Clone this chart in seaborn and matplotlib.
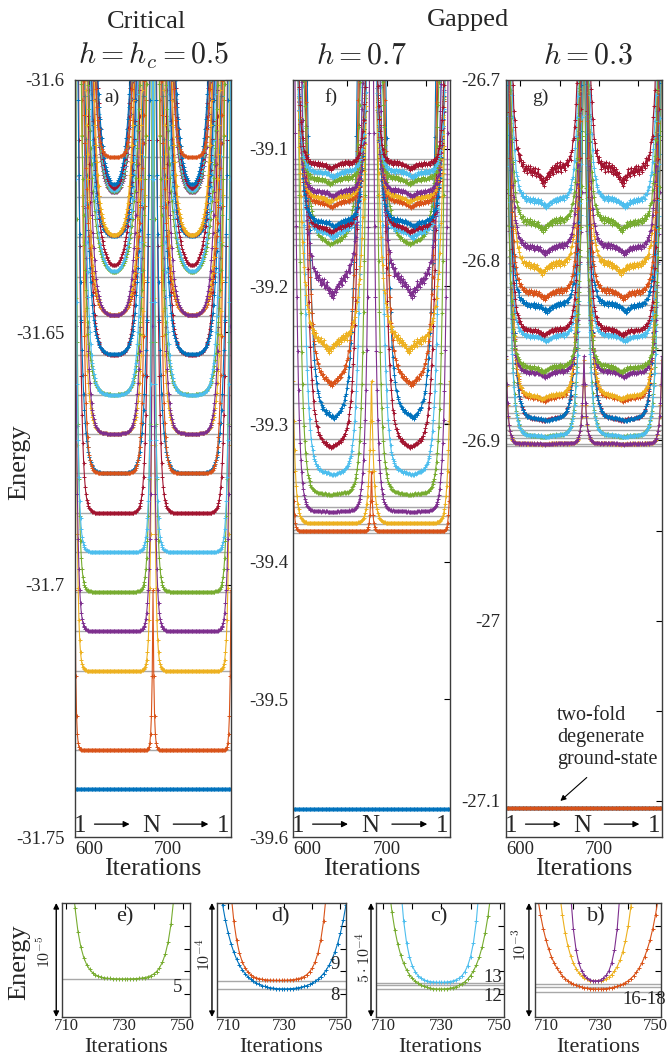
import numpy as np
import pandas as pd
import matplotlib
matplotlib.use("Agg")
import matplotlib.pyplot as plt
import seaborn as sns

# --- colours (matlab default order) ---
COLORS = ["#0072BD", "#D95319", "#EDB120", "#7E2F8E", "#77AC30", "#4DBEEE", "#A2142F"]
GRAY = "#a8a8a8"
AXC = "#3c3c3c"

# sweep: 1 -> N -> 1
ITER_START, ITER_TURN, ITER_END = 582, 681, 780

# --- a) critical h = 0.5 : plateau energies, wall offset / width (iterations) ---
A_ENERGY = [-31.7405, -31.7328, -31.7171, -31.7092, -31.7014, -31.6935, -31.6858,
            -31.6779, -31.6779, -31.6701, -31.6701, -31.6624, -31.6624, -31.6545,
            -31.6545, -31.6468, -31.6468, -31.6468, -31.6390, -31.6390, -31.6390,
            -31.6311, -31.6311, -31.6311, -31.6232, -31.6232, -31.6232, -31.6232,
            -31.6232, -31.6153]
A_DOFF = [-60, 1.5, 5, 5.5, 7, 6, 11, 13, 15, 17, 19, 18, 20, 24, 22, 21, 23, 25.5,
          27, 29, 32, 27, 29, 30, 31, 32, 33, 34, 35, 28]
A_WIDTH = [1, 1.3, 2, 2.5, 2.5, 2.5, 3, 4.5, 3, 4.5, 4, 5.5, 4.5, 4.5, 5.5, 6.5, 6, 5,
           7.5, 7, 8, 5, 5, 5, 6, 6, 6, 6.5, 7, 3.4]
A_NOISE = [0] * 30
A_LINES = sorted(set(A_ENERGY))

# --- f) gapped h = 0.7 ---
F_ENERGY = [-39.5796, -39.3778, -39.3718, -39.3633, -39.3504, -39.3353, -39.3147,
            -39.2929, -39.2674, -39.2404, -39.1980, -39.1675, -39.1600, -39.1570,
            -39.1530, -39.1390, -39.1350, -39.1310, -39.1220, -39.1170, -39.1110]
F_DOFF = [-60, 2.2, 7, 14.6, 20.3, 27, 31.7, 34, 32, 24, 27, 28.7, 20, 19, 18, 17, 16,
          15, 15, 14, 14]
F_WIDTH = [1, 1.5, 3, 3.5, 4, 4.5, 5, 5, 5, 6, 6, 6, 5, 5, 4.5, 4.5, 4, 4, 4, 4, 3.5]
F_NOISE = [0, 0, 0, 0.0004, 0.0007, 0.0011, 0.0018, 0.0022, 0.0029, 0.0044, 0.0058,
           0.0015, 0.0029, 0.0022, 0.0022, 0.0022, 0.0022, 0.0022, 0.0022, 0.0022, 0.0022]
F_LINES = [-39.1073, -39.1109, -39.1146, -39.1182, -39.1218, -39.1262, -39.1306,
           -39.1350, -39.1393, -39.1437, -39.1480, -39.1524, -39.1568, -39.1611,
           -39.1655, -39.1699, -39.1801, -39.1895, -39.2019, -39.2164, -39.2288,
           -39.2434, -39.2579, -39.2710, -39.2849, -39.2993, -39.3111, -39.3220,
           -39.3329, -39.3424, -39.3526, -39.3606, -39.3671, -39.3729, -39.3766,
           -39.3788, -39.5796]

# --- g) gapped h = 0.3 ---
G_ENERGY = [-27.1040, -27.1040, -26.9017, -26.9017, -26.8972, -26.8972, -26.8878,
            -26.8878, -26.8761, -26.8750, -26.8622, -26.8594, -26.8422, -26.8389,
            -26.8250, -26.8178, -26.8028, -26.7928, -26.7789, -26.7667, -26.7500]
G_DOFF = [-60, -60, 4, 4.1, 14.3, 14, 18, 18, 15.8, 15.8, 12.2, 12.2, 13, 14, 14, 14,
          15, 14, 14, 15, 15]
G_WIDTH = [1, 1, 2.6, 2.6, 4, 4, 4.5, 4.5, 4, 4, 4, 4, 4, 4, 4, 4, 4, 4, 4, 4, 4]
G_NOISE = [0, 0, 0.0003, 0.0003, 0.0006, 0.0006, 0.0008, 0.0008, 0.0014, 0.0014,
           0.0017, 0.0017, 0.0017, 0.0017, 0.0022, 0.0022, 0.0028, 0.0022, 0.0028,
           0.0022, 0.0045]
G_LINES = [-26.7628, -26.7711, -26.7806, -26.7900, -26.7983, -26.8072, -26.8150,
           -26.8194, -26.8250, -26.8322, -26.8372, -26.8428, -26.8472, -26.8500,
           -26.8572, -26.8628, -26.8694, -26.8761, -26.8806, -26.8850, -26.8878,
           -26.8917, -26.8944, -26.8972, -26.8989, -26.9017, -26.9033, -27.1042]

# wiggle (one half sweep)
NOISE = [
    0.0, 0.3, -0.2, 0.5, 0.1, -0.4, 0.3, 0.7, -0.1, 0.2,
    0.5, -0.5, 0.2, 0.6, 0.0, -0.3, 0.5, 0.3, -0.2, 0.8,
    0.4, -0.1, 0.2, 0.6, -0.4, -0.1, 0.3, 0.1, -0.5, 0.4,
    0.0, -0.3, 0.5, -0.1, -0.6, 0.2, -0.4, -0.2, 0.3, -0.7,
    -0.3, -0.5, 0.1, -0.9, -0.6, -1.2, -0.7, -1.6, -1.0, -1.9,
    -1.2, -1.5, -0.8, -1.1, -0.4, -0.8, -0.2, -0.6, 0.1, -0.3,
    0.4, -0.5, 0.2, 0.6, -0.2, 0.3, 0.8, -0.1, 0.5, 0.2,
    0.9, -0.3, 0.4, 0.7, 0.1, 0.5, -0.2, 0.6, 0.3, 0.8,
    0.0, 0.4, 0.7, -0.1, 0.5, 0.2, 0.9, 0.3, 0.6, 0.1,
    0.4, 0.8, 0.2, 0.5, 0.0, 0.3, 0.6, 0.1, 0.4, 0.0,
]

# --- zoomed insets (energy in units of the arrow scale) ---
INSETS = [
    dict(tag="e)", scale=r"$10^{-5}$", cidx=[4], base=[0.333], cen=[729.8], half=[18.0],
         wid=[2.5], lines=[0.333], xlim=(708.5, 752.5),
         notes=[("5", 0.906, 0.26)], arrx=-0.045, txtx=-0.13, txty=0.57),
    dict(tag="d)", scale=r"$10^{-4}$", cidx=[0, 1], base=[0.228, 0.32], cen=[730, 728],
         half=[23.4, 17.7], wid=[5.0, 2.6], lines=[0.32, 0.246], xlim=(706, 752),
         notes=[("9", 0.915, 0.46), ("8", 0.915, 0.19)], arrx=-0.039, txtx=-0.096, txty=0.55),
    dict(tag="c)", scale=r"$5\cdot10^{-4}$", cidx=[4, 5], base=[0.228, 0.30],
         cen=[729.6, 729.5], half=[18.0, 13.9], wid=[3.8, 2.3], lines=[0.30, 0.283, 0.246],
         xlim=(707.5, 751.5), notes=[("13", 0.91, 0.35), ("12", 0.91, 0.18)],
         arrx=-0.039, txtx=-0.092, txty=0.52),
    dict(tag="b)", scale=r"$10^{-3}$", cidx=[1, 2, 3], base=[0.226, 0.275, 0.30],
         cen=[729, 728.3, 728], half=[23.0, 14.0, 9.5], wid=[5.0, 3.5, 2.0],
         lines=[0.29, 0.267, 0.223], xlim=(706, 752),
         notes=[("16-18", 0.865, 0.15)], arrx=-0.048, txtx=-0.113, txty=0.63),
]


def sweep_frame(energy, d_off, width, noise):
    it = np.arange(ITER_START, ITER_END + 1)
    first = it <= ITER_TURN
    d_left = np.where(first, it - ITER_START, it - ITER_TURN)
    d_right = np.where(first, ITER_TURN - it, ITER_END - it)
    pat = np.array(NOISE)
    frames = []
    for k, (e0, d0, w, amp) in enumerate(zip(energy, d_off, width, noise)):
        rise = 0.01 * (np.exp(np.clip((d0 - d_left) / w, -60, 30))
                       + np.exp(np.clip((d0 - d_right) / w, -60, 30)))
        shift = (3 * k) % 7 - 3
        idx = (d_left + shift) % len(pat)
        wig = np.where(first, pat[idx], pat[::-1][idx])
        frames.append(pd.DataFrame({"iter": it, "E": e0 + np.minimum(rise, 2.0) + amp * wig,
                                    "level": f"L{k:02d}"}))
    return pd.concat(frames, ignore_index=True)


def draw_curves(ax, df, colors, ms=3.2):
    order = list(dict.fromkeys(df["level"]))
    sns.lineplot(data=df, x="iter", y="E", hue="level", hue_order=order, palette=colors,
                 legend=False, estimator=None, sort=False, lw=0.8, marker="+",
                 markersize=ms, ax=ax)
    for ln in ax.get_lines():
        ln.set_markeredgecolor(ln.get_color())
        ln.set_markeredgewidth(0.7)


def style_axes(ax, ypad=3.5, xpad=3, size=13.5):
    for sp in ax.spines.values():
        sp.set_color(AXC)
        sp.set_linewidth(1.0)
    ax.tick_params(which="both", direction="in", top=True, right=True, length=4,
                   width=0.8, labelsize=size, color="k")
    ax.tick_params(axis="y", pad=ypad)
    ax.tick_params(axis="x", pad=xpad)
    ax.grid(False)


sns.set_style("white")
plt.rcParams["font.family"] = ["Liberation Serif", "DejaVu Serif"]
plt.rcParams["mathtext.fontset"] = "cm"

fig = plt.figure(figsize=(6.72, 10.59), dpi=100)
W, H = 672, 1059


def px_axes(left, top, right, bottom):
    return fig.add_axes([left / W, 1 - bottom / H, (right - left) / W, (bottom - top) / H])


top_panels = [
    dict(box=(75, 80, 231, 837), E=A_ENERGY, D=A_DOFF, Wd=A_WIDTH, N=A_NOISE, lines=A_LINES,
         ylim=(-31.75, -31.6), ticks=[-31.75, -31.7, -31.65, -31.6],
         tlabels=["-31.75", "-31.7", "-31.65", "-31.6"], minor=[], tag="a)", tagx=0.237,
         ypad=7.5),
    dict(box=(293, 80, 450, 837), E=F_ENERGY, D=F_DOFF, Wd=F_WIDTH, N=F_NOISE, lines=F_LINES,
         ylim=(-39.6, -39.05), ticks=[-39.6, -39.5, -39.4, -39.3, -39.2, -39.1],
         tlabels=["-39.6", "-39.5", "-39.4", "-39.3", "-39.2", "-39.1"], minor=[],
         tag="f)", tagx=0.24, ypad=3.5),
    dict(box=(506, 80, 662, 837), E=G_ENERGY, D=G_DOFF, Wd=G_WIDTH, N=G_NOISE, lines=G_LINES,
         ylim=(-27.12, -26.7), ticks=[-27.1, -27.0, -26.9, -26.8, -26.7],
         tlabels=["-27.1", "-27", "-26.9", "-26.8", "-26.7"],
         minor=[-27.05, -26.95, -26.85, -26.75], tag="g)", tagx=0.218, ypad=4),
]

axes_top = []
for p in top_panels:
    ax = px_axes(*p["box"])
    df = sweep_frame(p["E"], p["D"], p["Wd"], p["N"])
    cols = [COLORS[k % 7] for k in range(len(p["E"]))]
    draw_curves(ax, df, cols)
    for e in p["lines"]:
        ax.axhline(e, color=GRAY, lw=1.0, zorder=0.5)
    ax.set_xlim(ITER_START, ITER_END)
    ax.set_ylim(*p["ylim"])
    ax.set_yticks(p["ticks"])
    ax.set_yticklabels(p["tlabels"])
    if p["minor"]:
        ax.set_yticks(p["minor"], minor=True)
    ax.set_xticks([600, 650, 700, 750])
    ax.set_xticklabels(["600", "", "700", ""])
    ax.set_xlabel("Iterations", fontsize=18.5, labelpad=0)
    ax.set_ylabel("")
    style_axes(ax, p["ypad"])
    ax.text(p["tagx"], 0.977, p["tag"], transform=ax.transAxes, fontsize=14,
            ha="center", va="center")
    # 1 -> N -> 1
    ax.text(0.032, 0.006, "1", transform=ax.transAxes, fontsize=18, ha="center",
            va="baseline")
    ax.text(0.49, 0.006, "N", transform=ax.transAxes, fontsize=18, ha="center",
            va="baseline")
    ax.text(0.947, 0.006, "1", transform=ax.transAxes, fontsize=18, ha="center",
            va="baseline")
    for x0, x1 in [(0.125, 0.35), (0.63, 0.855)]:
        ax.annotate("", xy=(x1, 0.017), xytext=(x0, 0.017), xycoords="axes fraction",
                    textcoords="axes fraction",
                    arrowprops=dict(arrowstyle="-|>", color="k", lw=0.9,
                                    mutation_scale=9, shrinkA=0, shrinkB=0))
    axes_top.append(ax)

# ground-state note in g)
axg = axes_top[2]
axg.text(647, -27.0648, "two-fold\ndegenerate\nground-state", fontsize=14.5, ha="left",
         va="center", linespacing=1.2)
axg.annotate("", xy=(651, -27.100), xytext=(684.5, -27.087),
             arrowprops=dict(arrowstyle="-|>", color="k", lw=0.8, mutation_scale=8,
                             shrinkA=0, shrinkB=0))

fig.text(19 / W, 1 - 462 / H, "Energy", rotation=90, ha="center", va="center", fontsize=19)
fig.text(147 / W, 1 - 22 / H, "Critical", ha="center", va="center", fontsize=19)
fig.text(468 / W, 1 - 20 / H, "Gapped", ha="center", va="center", fontsize=19)
fig.text(154 / W, 1 - 55 / H, r"$h = h_c = 0.5$", ha="center", va="center", fontsize=21.5)
fig.text(361 / W, 1 - 57 / H, r"$h = 0.7$", ha="center", va="center", fontsize=21.5)
fig.text(588 / W, 1 - 57 / H, r"$h = 0.3$", ha="center", va="center", fontsize=21.5)

# --- bottom row insets ---
boxes = [(62, 903, 190, 1017), (217, 903, 346, 1017), (376, 903, 504, 1017),
         (535, 903, 661, 1017)]
it_b = np.arange(704, 757)
for box, ins in zip(boxes, INSETS):
    ax = px_axes(*box)
    frames = []
    for k, (b0, c0, h0, w0) in enumerate(zip(ins["base"], ins["cen"], ins["half"], ins["wid"])):
        rise = np.exp(np.clip((it_b - c0 - h0) / w0, -60, 20)) + \
            np.exp(np.clip((c0 - h0 - it_b) / w0, -60, 20))
        frames.append(pd.DataFrame({"iter": it_b, "E": b0 + np.minimum(rise, 5.0),
                                    "level": f"L{k:02d}"}))
    df = pd.concat(frames, ignore_index=True)
    draw_curves(ax, df, [COLORS[c] for c in ins["cidx"]], ms=3.5)
    for e in ins["lines"]:
        ax.axhline(e, color=GRAY, lw=1.0, zorder=0.5)
    ax.set_xlim(*ins["xlim"])
    ax.set_ylim(0, 1)
    ax.set_xticks([710, 720, 730, 740, 750])
    ax.set_xticklabels(["710", "", "730", "", "750"])
    ax.set_yticks([0.2, 0.4, 0.6, 0.8])
    ax.set_yticklabels([])
    ax.set_ylabel("")
    style_axes(ax, xpad=1.0, size=12)
    ax.set_xlabel("")
    ax.text(0.5, -0.265, "Iterations", transform=ax.transAxes, fontsize=16, ha="center",
            va="center")
    ax.text(0.49, 0.88, ins["tag"], transform=ax.transAxes, fontsize=16, ha="center",
            va="center")
    for txt, tx, ty in ins["notes"]:
        ax.text(tx, ty, txt, transform=ax.transAxes, fontsize=13.5, ha="center", va="center")
    ax.annotate("", xy=(ins["arrx"], 0.0), xytext=(ins["arrx"], 1.0),
                xycoords="axes fraction", textcoords="axes fraction",
                arrowprops=dict(arrowstyle="<|-|>", color="k", lw=1.0, mutation_scale=8,
                                shrinkA=0, shrinkB=0), annotation_clip=False)
    ax.text(ins["txtx"], ins["txty"], ins["scale"], transform=ax.transAxes, rotation=90,
            fontsize=11.5, ha="center", va="center")

fig.text(19 / W, 1 - 962 / H, "Energy", rotation=90, ha="center", va="center", fontsize=19)

fig.savefig("out.png", dpi=100)
